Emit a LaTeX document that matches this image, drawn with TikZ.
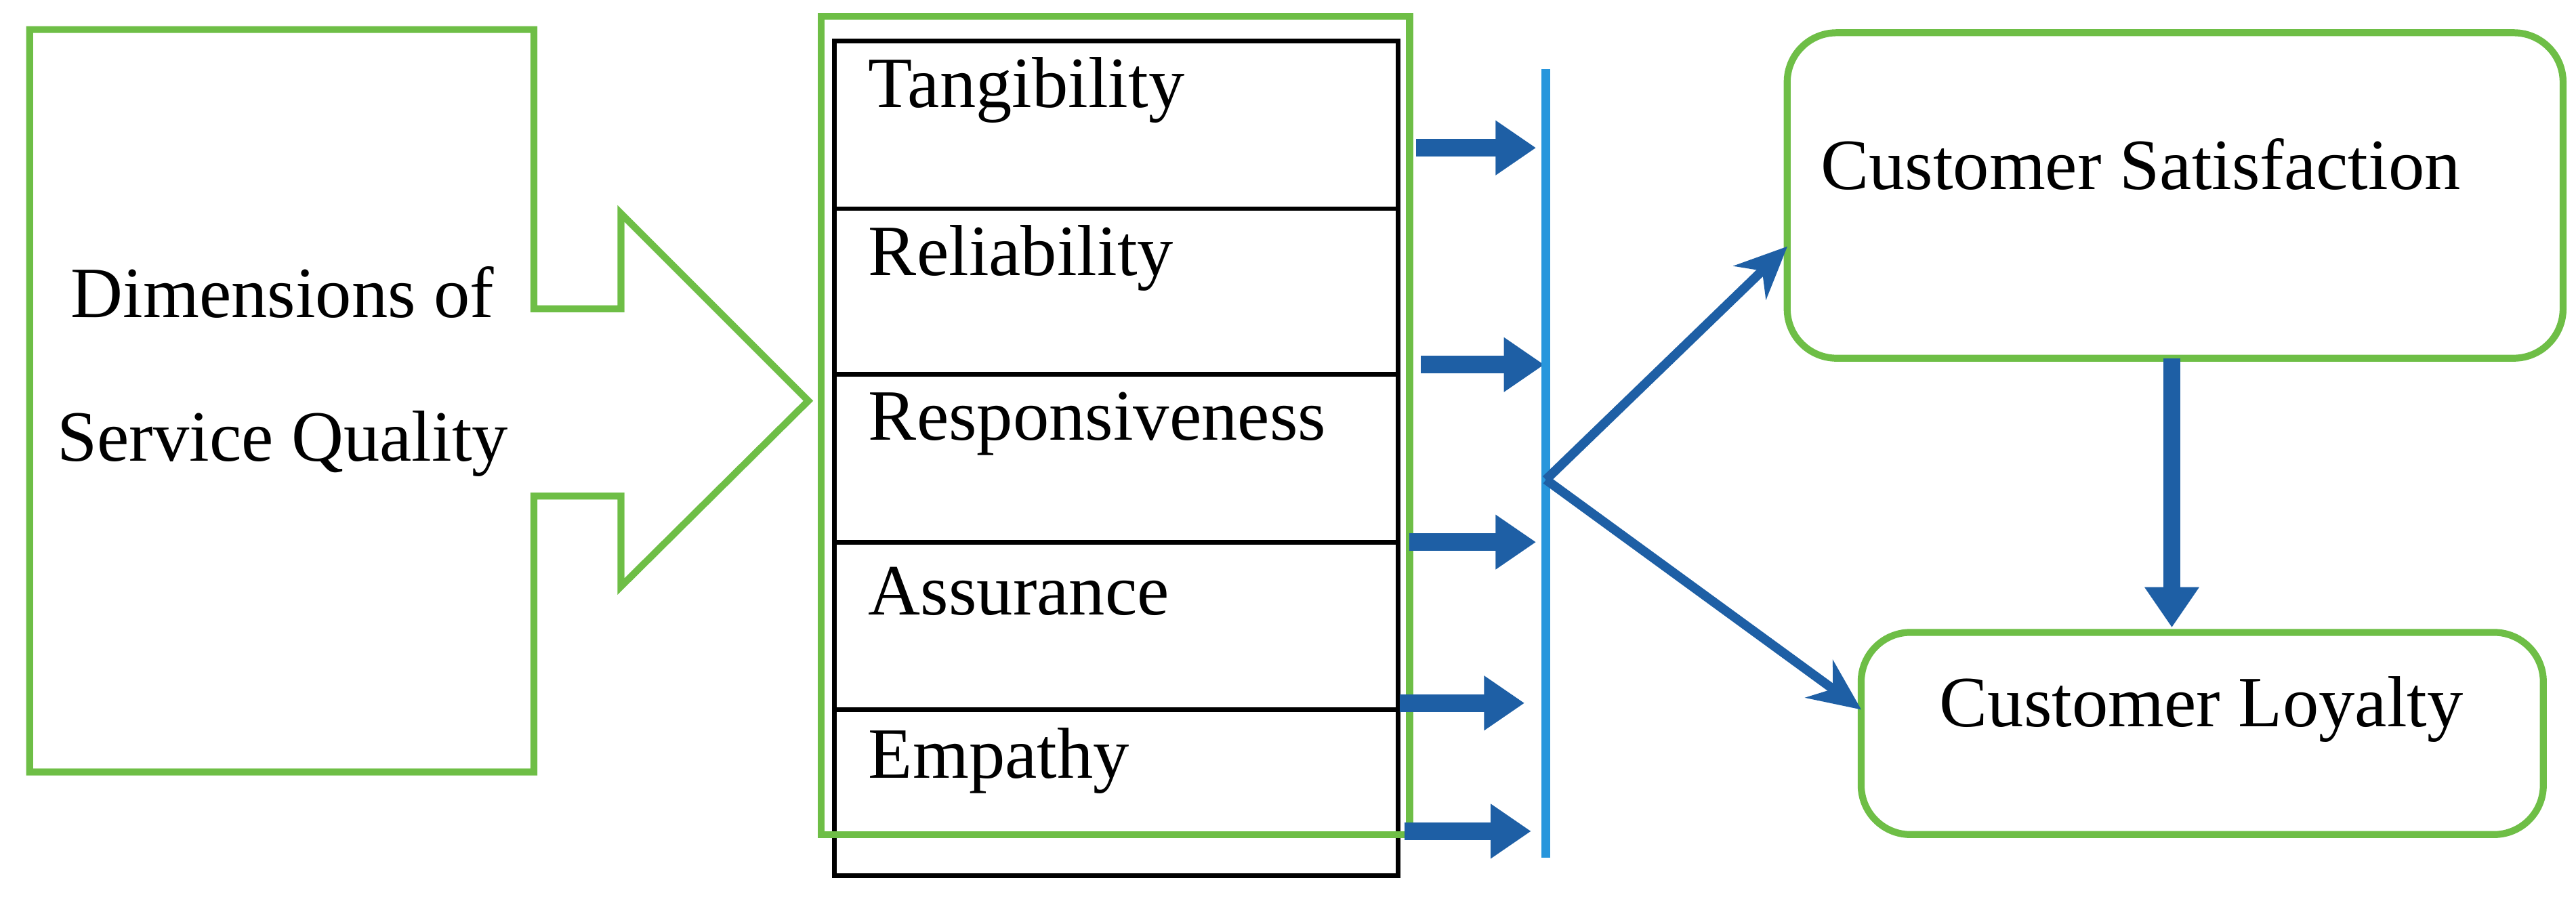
\documentclass[tikz,border=0pt]{standalone}
\usepackage{fontspec}
\setmainfont{Liberation Serif}
\usetikzlibrary{arrows.meta}
\definecolor{gr}{RGB}{110,190,70}
\definecolor{db}{RGB}{30,95,165}
\definecolor{lb}{RGB}{40,150,220}
\begin{document}
\begin{tikzpicture}[x=0.01cm,y=-0.01cm,
  lbl/.style={font=\fontsize{12.5}{14}\selectfont,inner sep=0pt},
  thick arr/.style={db,line width=3pt,-{Triangle[length=7pt,width=9pt]}},
  thin arr/.style={db,line width=1.6pt,-{Stealth[length=9pt,width=8pt]}},
  gbox/.style={draw=gr,line width=1.2pt,rounded corners=0.3cm}]
\useasboundingbox (0,0) rectangle (1568,546);
% block arrow
\draw[gr,line width=1.2pt] (18,18)--(325,18)--(325,188)--(378,188)--(378,130)--(492,244)--(378,357)--(378,302)--(325,302)--(325,470)--(18,470)--cycle;
\node[lbl] (d1) at (172,178) {Dimensions of};
\node[lbl] (d2) at (172,270) {Service Quality};
% table
\draw[black,line width=0.8pt] (508,25) rectangle (851,533);
\foreach \y in {127,228,330,432} \draw[black,line width=0.8pt] (508,\y)--(851,\y);
\draw[gr,line width=1.2pt] (500,10) rectangle (858,508);
\node[lbl,anchor=west] (t1) at (528,55) {Tangibility};
\node[lbl,anchor=west] (t2) at (528,157) {Reliability};
\node[lbl,anchor=west] (t3) at (528,258) {Responsiveness};
\node[lbl,anchor=west] (t4) at (528,360) {Assurance};
\node[lbl,anchor=west] (t5) at (528,463) {Empathy};
% short arrows
\coordinate (a1) at (862,90); \coordinate (b1) at (935,90);
\coordinate (a2) at (865,222); \coordinate (b2) at (940,222);
\coordinate (a3) at (858,330); \coordinate (b3) at (935,330);
\coordinate (a4) at (852,428); \coordinate (b4) at (928,428);
\coordinate (a5) at (855,506); \coordinate (b5) at (932,506);
\foreach \i in {1,...,5} \draw[thick arr] (a\i)--(b\i);
% vertical line
\coordinate (vt) at (941,42); \coordinate (vb) at (941,522); \coordinate (vm) at (941,292);
\draw[lb,line width=1.5pt] (vt)--(vb);
% right boxes
\node[gbox,minimum width=4.72cm,minimum height=1.98cm] (cs) at (1324,119) {};
\node[lbl] at (1303,100) {Customer Satisfaction};
\node[gbox,minimum width=4.15cm,minimum height=1.23cm] (cl) at (1340.5,446.5) {};
\node[lbl] at (1340,432) {Customer Loyalty};
\draw[thin arr] (vm)--(1088,150);
\draw[thin arr] (vm)--(1133,432);
\draw[thick arr] (1322,218)--(1322,382);
\end{tikzpicture}
\end{document}
